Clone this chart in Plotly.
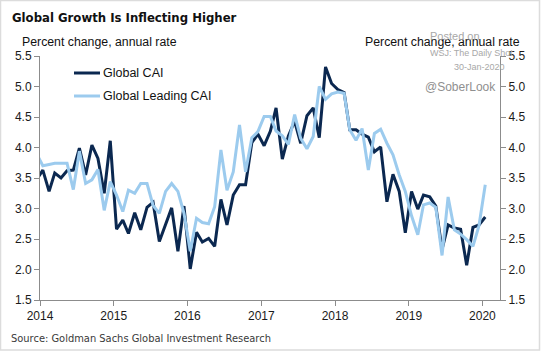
import pandas as pd
import plotly.graph_objects as go

# ---- data (monthly, Dec-2013 .. Jan-2020) ----
months = pd.date_range("2013-12-01", "2020-01-01", freq="MS") + pd.Timedelta(days=14)

global_cai = [
    3.47,
    3.63, 3.28, 3.58, 3.50, 3.62, 3.63, 3.99, 3.55, 4.04, 3.82, 3.25, 4.11,   # 2014
    2.66, 2.81, 2.59, 2.93, 2.65, 3.02, 3.10, 2.46, 2.75, 3.01, 2.30, 3.04,   # 2015
    2.01, 2.61, 2.45, 2.51, 2.38, 3.15, 2.73, 3.22, 3.39, 3.39, 4.08, 4.22,   # 2016
    4.03, 4.27, 4.65, 3.81, 4.19, 4.43, 4.07, 4.52, 4.65, 4.16, 5.32, 5.05,   # 2017
    4.95, 4.90, 4.29, 4.29, 4.22, 4.17, 3.93, 4.01, 3.11, 3.56, 3.28, 2.60,   # 2018
    3.28, 2.99, 3.22, 3.19, 3.04, 2.33, 2.73, 2.68, 2.66, 2.07, 2.69, 2.73,   # 2019
    2.86,                                                                     # 2020
]
global_leading_cai = [
    3.90,
    3.70, 3.72, 3.74, 3.74, 3.74, 3.31, 3.94, 3.41, 3.47, 3.64, 2.97, 3.44,   # 2014
    3.22, 2.95, 3.30, 3.25, 3.41, 3.41, 3.05, 2.92, 3.28, 3.41, 3.28, 2.92,   # 2015
    2.30, 2.84, 2.77, 2.75, 3.03, 3.96, 3.30, 3.60, 4.37, 3.60, 4.16, 4.26,   # 2016
    4.51, 4.51, 4.27, 4.19, 4.05, 4.54, 4.15, 3.98, 4.18, 5.00, 4.79, 4.88,   # 2017
    4.91, 4.89, 4.29, 4.12, 4.31, 3.63, 4.23, 4.30, 4.07, 3.88, 3.55, 3.28,   # 2018
    2.88, 2.57, 3.06, 3.09, 3.02, 2.23, 3.19, 2.65, 2.58, 2.49, 2.38, 2.72,   # 2019
    3.39,                                                                     # 2020
]
series_names = ["Global CAI", "Global Leading CAI"]
series_colors = ["#0b2850", "#9ccbee"]

year_ticks = ["2014-01-01", "2015-01-01", "2016-01-01", "2017-01-01",
              "2018-01-01", "2019-01-01", "2020-01-01"]
year_labels = ["2014", "2015", "2016", "2017", "2018", "2019", "2020"]
y_ticks = [1.5, 2.0, 2.5, 3.0, 3.5, 4.0, 4.5, 5.0, 5.5]
y_labels = ["1.5", "2.0", "2.5", "3.0", "3.5", "4.0", "4.5", "5.0", "5.5"]

# ---- layout geometry ----
W, H = 541, 352
L, R, T, B = 40, 41, 56, 52
PW, PH = W - L - R, H - T - B


def px(x):
    return (x - L) / PW


def py(y):
    return (H - B - y) / PH


fig = go.Figure()
fig.add_trace(go.Scatter(x=months, y=global_cai, name=series_names[0], mode="lines",
                         line=dict(color=series_colors[0], width=3), yaxis="y",
                         showlegend=False))
fig.add_trace(go.Scatter(x=months, y=global_leading_cai, name=series_names[1], mode="lines",
                         line=dict(color=series_colors[1], width=3), yaxis="y2",
                         showlegend=False))

axis_col = "#8c8c8c"
tick_font = dict(family="Liberation Sans, Arial, sans-serif", size=12, color="#1a1a1a")
yax = dict(range=[1.5, 5.5], tickvals=y_ticks, ticktext=y_labels, ticks="outside",
           ticklen=5, tickcolor=axis_col, showline=True, linecolor=axis_col, linewidth=1,
           showgrid=False, zeroline=False, tickfont=tick_font, fixedrange=True)

narrow = "Liberation Sans Narrow, Arial Narrow, DejaVu Sans Condensed, sans-serif"
arial = "Liberation Sans, Arial, sans-serif"

annotations = [
    dict(text="<b>Global Growth Is Inflecting Higher</b>", x=px(10), y=py(18),
         xanchor="left", yanchor="middle", font=dict(family=narrow, size=13, color="#111")),
    dict(text="Percent change, annual rate", x=px(20), y=py(42), xanchor="left",
         yanchor="middle", font=dict(family=arial, size=12.3, color="#111")),
    dict(text="Percent change, annual rate", x=px(522), y=py(42), xanchor="right",
         yanchor="middle", font=dict(family=arial, size=12.3, color="#111")),
    dict(text="Posted on", x=px(428), y=py(36), xanchor="left", yanchor="middle",
         font=dict(family=arial, size=11, color="#a8a8a8")),
    dict(text="WSJ: The Daily Shot", x=px(428), y=py(53), xanchor="left", yanchor="middle",
         font=dict(family=arial, size=9, color="#a8a8a8")),
    dict(text="30-Jan-2020", x=px(507), y=py(67), xanchor="right", yanchor="middle",
         font=dict(family=arial, size=9, color="#a8a8a8")),
    dict(text="@SoberLook", x=px(423), y=py(87), xanchor="left", yanchor="middle",
         font=dict(family=arial, size=12, color="#8f8f8f")),
    dict(text="Source: Goldman Sachs Global Investment Research", x=px(9), y=py(338),
         xanchor="left", yanchor="middle", font=dict(family=narrow, size=11, color="#3a3a3a")),
]
shapes = [
    dict(type="rect", xref="paper", yref="paper", x0=px(0.5), x1=px(539.5),
         y0=py(350), y1=py(0.5), line=dict(color="#dcdcdc", width=1.5)),
]
# manual legend
for i, (nm, col) in enumerate(zip(series_names, series_colors)):
    yy = 73 + 23 * i
    shapes.append(dict(type="line", xref="paper", yref="paper", x0=px(74), x1=px(100),
                       y0=py(yy), y1=py(yy), line=dict(color=col, width=3)))
    annotations.append(dict(text=nm, x=px(101), y=py(yy), xanchor="left", yanchor="middle",
                            font=dict(family=arial, size=12.5, color="#111")))

fig.update_layout(
    width=W, height=H, margin=dict(l=L, r=R, t=T, b=B),
    paper_bgcolor="white", plot_bgcolor="white", showlegend=False,
    xaxis=dict(type="date", range=["2014-01-01", "2020-03-28"], tickvals=year_ticks,
               ticktext=year_labels, ticks="outside", ticklen=5, tickcolor=axis_col,
               showline=True, linecolor=axis_col, linewidth=1, showgrid=False,
               zeroline=False, tickfont=tick_font, fixedrange=True),
    yaxis=yax,
    yaxis2=dict(yax, overlaying="y", side="right"),
    annotations=annotations, shapes=shapes,
)
for a in fig.layout.annotations:
    a.update(xref="paper", yref="paper", showarrow=False)

fig.write_html("out.html", config=dict(displayModeBar=False))
